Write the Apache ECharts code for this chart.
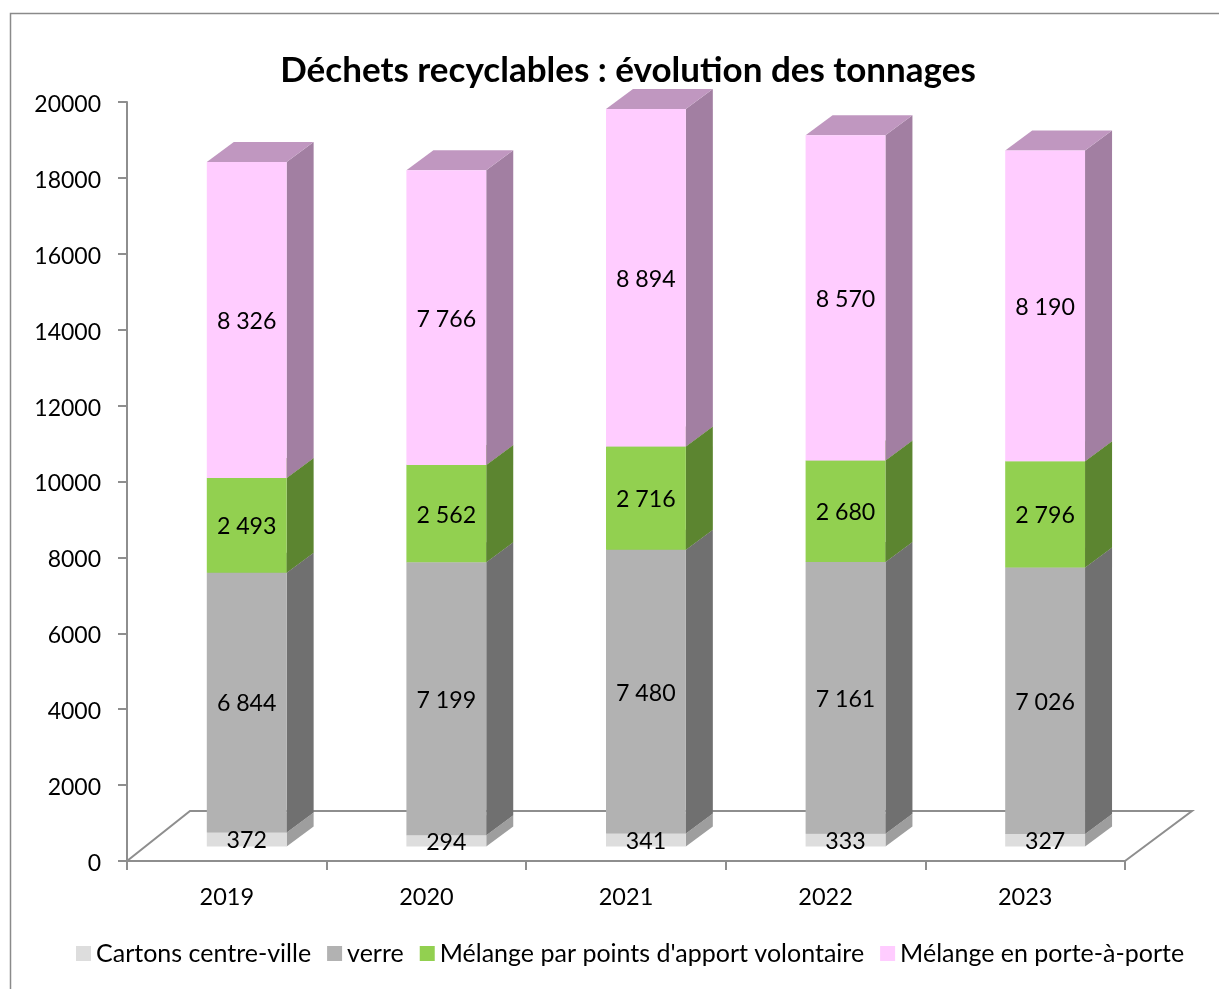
<!DOCTYPE html>
<html>
<head>
<meta charset="utf-8">
<title>Déchets recyclables</title>
<script src="https://cdn.jsdelivr.net/npm/echarts@6/dist/echarts.min.js"></script>
<style>
  html, body { margin: 0; padding: 0; background: #fff; }
  #chart { width: 1219px; height: 989px; }
</style>
</head>
<body>
<div id="chart"></div>
<script>
// Data
const years = ['2019', '2020', '2021', '2022', '2023'];
const cartons = [372, 294, 341, 333, 327];
const verre = [6844, 7199, 7480, 7161, 7026];
const apport = [2493, 2562, 2716, 2680, 2796];
const porte = [8326, 7766, 8894, 8570, 8190];
const yTicks = [0, 20000, 2000]; // min, max, step

const FONT = 'Lato, "Open Sans", sans-serif';
const AXIS_GREY = '#8e8e8e';

// Pseudo 3D geometry, in pixels
const DEPTH_X = 27;
const DEPTH_Y = 20;
const BAR_SHIFT_X = 20;
const BAR_SHIFT_Y = 14.5;

const stacks = [
  { name: 'Cartons centre-ville', values: cartons, front: '#dddddd', side: '#9e9e9e', top: '#bcbcbc' },
  { name: 'verre', values: verre, front: '#b2b2b2', side: '#707070', top: '#8e8e8e' },
  { name: "Mélange par points d'apport volontaire", values: apport, front: '#92d050', side: '#5c8530', top: '#75a640' },
  { name: 'Mélange en porte-à-porte', values: porte, front: '#ffccff', side: '#a27fa2', top: '#c097c0' }
];

function formatTons(v) {
  return String(v).replace(/\B(?=(\d{3})+$)/g, '\u202f');
}

// Draws one box: front, side and top faces plus the value label
function renderBox(stack) {
  return function (params, api) {
    const center = api.coord([api.value(0), 0])[0];
    const barWidth = api.size([1, 0])[0] * 0.4;
    const x0 = center - BAR_SHIFT_X;
    const x1 = x0 + barWidth;
    const yBase = api.coord([api.value(0), api.value(1)])[1] - BAR_SHIFT_Y;
    const yTop = api.coord([api.value(0), api.value(2)])[1] - BAR_SHIFT_Y;
    return {
      type: 'group',
      children: [
        {
          type: 'polygon',
          shape: { points: [[x1, yBase], [x1 + DEPTH_X, yBase - DEPTH_Y], [x1 + DEPTH_X, yTop - DEPTH_Y], [x1, yTop]] },
          style: { fill: stack.side }
        },
        {
          type: 'polygon',
          shape: { points: [[x0, yTop], [x1, yTop], [x1 + DEPTH_X, yTop - DEPTH_Y], [x0 + DEPTH_X, yTop - DEPTH_Y]] },
          style: { fill: stack.top }
        },
        {
          type: 'rect',
          shape: { x: x0, y: yTop, width: barWidth, height: yBase - yTop },
          style: { fill: stack.front }
        },
        {
          type: 'text',
          z2: 10,
          style: {
            text: formatTons(api.value(3)),
            x: (x0 + x1) / 2,
            y: (yBase + yTop) / 2 + 1.5,
            align: 'center',
            verticalAlign: 'middle',
            fill: '#000',
            font: '23.2px ' + FONT
          }
        }
      ]
    };
  };
}

// Floor outline behind the bars
function renderFloor(params, api) {
  const cs = params.coordSys;
  const yFront = cs.y + cs.height;
  const yBack = yFront - 50;
  return {
    type: 'polyline',
    shape: { points: [[cs.x, yFront], [cs.x + 63, yBack], [cs.x + cs.width + 67, yBack], [cs.x + cs.width, yFront]] },
    style: { fill: 'none', stroke: AXIS_GREY, lineWidth: 2 },
    silent: true
  };
}

const totals = years.map(() => 0);
const boxSeries = stacks.map(function (stack) {
  const rows = stack.values.map(function (v, i) {
    const base = totals[i];
    totals[i] += v;
    return [i, base, totals[i], v];
  });
  return {
    name: stack.name,
    type: 'custom',
    renderItem: renderBox(stack),
    encode: { x: 0, y: [1, 2] },
    itemStyle: { color: stack.front },
    data: rows,
    z: 3
  };
});

const chart = echarts.init(document.getElementById('chart'));

chart.setOption({
  animation: false,
  backgroundColor: '#fff',
  title: {
    text: 'Déchets recyclables : évolution des tonnages',
    left: 623,
    top: 48,
    textAlign: 'center',
    textStyle: { fontFamily: FONT, fontSize: 35, fontWeight: 'bold', color: '#000' }
  },
  grid: { left: 127, right: 94, top: 102, bottom: 128 },
  xAxis: {
    type: 'category',
    data: years,
    boundaryGap: true,
    axisLine: { lineStyle: { color: AXIS_GREY, width: 2 } },
    axisTick: { show: true, alignWithLabel: false, length: 9, lineStyle: { color: AXIS_GREY, width: 2 } },
    axisLabel: { color: '#000', fontFamily: FONT, fontSize: 23.5, margin: 24 }
  },
  yAxis: {
    type: 'value',
    min: yTicks[0],
    max: yTicks[1],
    interval: yTicks[2],
    splitLine: { show: false },
    axisLine: { show: true, lineStyle: { color: AXIS_GREY, width: 2 } },
    axisTick: { show: true, length: 9, lineStyle: { color: AXIS_GREY, width: 2 } },
    axisLabel: {
      margin: 26,
      formatter: function (v) { return '{tick|' + v + '}'; },
      rich: {
        tick: { color: '#000', fontFamily: FONT, fontSize: 23, padding: [5, 0, 0, 0] }
      }
    }
  },
  legend: {
    left: 71,
    top: 936,
    icon: 'rect',
    itemWidth: 15,
    itemHeight: 15,
    itemGap: 16,
    data: stacks.map(s => s.name),
    selectedMode: false,
    textStyle: { color: '#000', fontFamily: FONT, fontSize: 25 }
  },
  graphic: [
    {
      type: 'polyline',
      shape: { points: [[10.5, 989], [10.5, 13.5], [1219, 13.5]] },
      style: { fill: 'none', stroke: '#8a8a8a', lineWidth: 1.5 },
      silent: true
    }
  ],
  series: [
    { type: 'custom', name: 'floor', renderItem: renderFloor, data: [[0, 0]], encode: { x: 0, y: 1 }, z: 1, silent: true }
  ].concat(boxSeries)
});

window.addEventListener('resize', function () {
  chart.resize();
});
</script>
</body>
</html>
